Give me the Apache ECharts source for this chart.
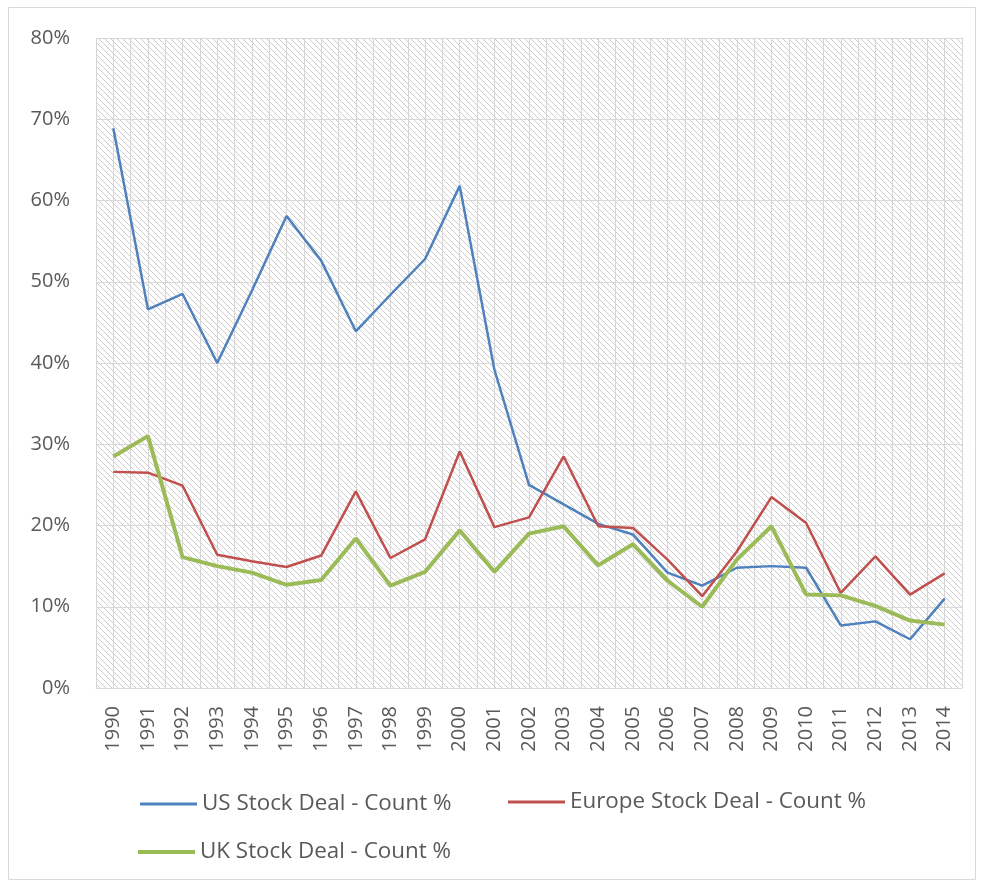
<!DOCTYPE html>
<html>
<head>
<meta charset="utf-8">
<script src="https://cdn.jsdelivr.net/npm/echarts@6/dist/echarts.min.js"></script>
<style>
  html, body { margin: 0; padding: 0; background: #fff; }
  #chart { width: 981px; height: 883px; }
</style>
</head>
<body>
<div id="chart"></div>
<script>
// Deal counts paid in stock, as a share of all deals (%)
const years = ['1990','1991','1992','1993','1994','1995','1996','1997','1998','1999',
               '2000','2001','2002','2003','2004','2005','2006','2007','2008','2009',
               '2010','2011','2012','2013','2014'];
const usShare = [68.9, 46.6, 48.5, 40.0, 48.9, 58.1, 52.6, 43.9, 48.4, 52.8,
                 61.8, 39.2, 25.0, 22.6, 20.2, 18.9, 14.2, 12.6, 14.8, 15.0,
                 14.8, 7.7, 8.2, 6.0, 11.0];
const europeShare = [26.6, 26.5, 24.9, 16.4, 15.6, 14.9, 16.3, 24.2, 16.0, 18.3,
                     29.1, 19.8, 21.0, 28.5, 19.9, 19.7, 15.8, 11.3, 16.8, 23.5,
                     20.3, 11.7, 16.2, 11.5, 14.1];
const ukShare = [28.5, 31.0, 16.1, 15.0, 14.2, 12.7, 13.3, 18.4, 12.6, 14.3,
                 19.4, 14.3, 19.0, 19.9, 15.1, 17.7, 13.2, 10.0, 15.8, 19.9,
                 11.5, 11.4, 10.1, 8.3, 7.8];
const seriesNames = ['US Stock Deal - Count %', 'Europe Stock Deal - Count %', 'UK Stock Deal - Count %'];
const yTicks = [0, 10, 20, 30, 40, 50, 60, 70, 80];

const FONT = 'Open Sans';
const TEXT = '#595959';
const GRID = '#d9d9d9';
const COLORS = ['#4f81bd', '#c0504d', '#9bbb59'];

// Diagonal hatch tile for the plot background
function hatchTile() {
  const s = 6;
  const c = document.createElement('canvas');
  c.width = s; c.height = s;
  const g = c.getContext('2d');
  g.fillStyle = '#ffffff';
  g.fillRect(0, 0, s, s);
  g.strokeStyle = '#cdcdcd';
  g.lineWidth = 1;
  g.beginPath();
  g.moveTo(-1, -1); g.lineTo(s + 1, s + 1);
  g.moveTo(-1, s - 1); g.lineTo(1, s + 1);
  g.moveTo(s - 1, -1); g.lineTo(s + 1, 1);
  g.stroke();
  return c;
}

const chart = echarts.init(document.getElementById('chart'), null, { renderer: 'canvas' });

const legendBase = {
  orient: 'horizontal',
  icon: 'rect',
  itemWidth: 57,
  itemGap: 20,
  padding: 0,
  textStyle: { fontFamily: FONT, fontSize: 22.4, color: TEXT },
  selectedMode: false
};

chart.setOption({
  animation: false,
  backgroundColor: '#ffffff',
  graphic: [{
    type: 'rect',
    shape: { x: 8.5, y: 7.5, width: 967, height: 872 },
    style: { fill: 'none', stroke: GRID, lineWidth: 1 },
    silent: true
  }],
  grid: {
    left: 96, right: 19, top: 38, bottom: 195,
    show: true,
    backgroundColor: { image: hatchTile(), repeat: 'repeat' },
    borderWidth: 0
  },
  legend: [
    Object.assign({}, legendBase, { data: [seriesNames[0]], left: 140, top: 793, itemHeight: 3 }),
    Object.assign({}, legendBase, { data: [seriesNames[1]], left: 508, top: 791, itemHeight: 3 }),
    Object.assign({}, legendBase, { data: [seriesNames[2]], left: 138, top: 841, itemHeight: 4 })
  ],
  xAxis: [{
    type: 'category',
    data: years,
    boundaryGap: true,
    axisLine: { show: true, lineStyle: { color: GRID, width: 1 } },
    axisTick: { show: false },
    axisLabel: { rotate: 90, margin: 18, fontFamily: FONT, fontSize: 20, color: TEXT, interval: 0 },
    splitLine: { show: false }
  }, {
    // half-category vertical rules across the plot
    type: 'value',
    min: 0, max: years.length * 2, interval: 1,
    position: 'top',
    axisLine: { show: false },
    axisTick: { show: false },
    axisLabel: { show: false },
    splitLine: { show: true, lineStyle: { color: '#d6d6d6', width: 1 } }
  }],
  yAxis: {
    type: 'value',
    min: yTicks[0], max: yTicks[yTicks.length - 1], interval: 10,
    axisLine: { show: false },
    axisTick: { show: false },
    axisLabel: { formatter: '{value}%', margin: 26, fontFamily: FONT, fontSize: 20, color: TEXT },
    splitLine: { show: true, lineStyle: { color: GRID, width: 1 } }
  },
  series: [
    { name: seriesNames[0], type: 'line', data: usShare, symbol: 'none',
      itemStyle: { color: COLORS[0] }, lineStyle: { color: COLORS[0], width: 2.5 } },
    { name: seriesNames[1], type: 'line', data: europeShare, symbol: 'none',
      itemStyle: { color: COLORS[1] }, lineStyle: { color: COLORS[1], width: 2.5 } },
    { name: seriesNames[2], type: 'line', data: ukShare, symbol: 'none',
      itemStyle: { color: COLORS[2] }, lineStyle: { color: COLORS[2], width: 4 } }
  ]
});
</script>
</body>
</html>
